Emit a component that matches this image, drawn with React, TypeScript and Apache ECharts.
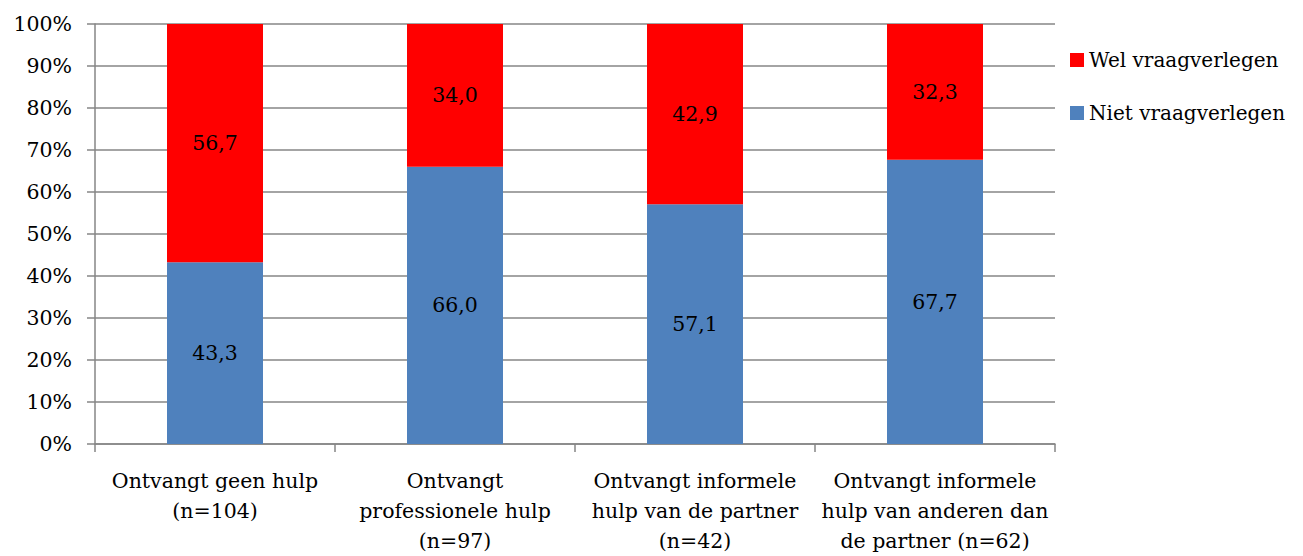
import React, { useEffect, useRef } from "react";
import * as echarts from "echarts";

const categories = [
  "Ontvangt geen hulp\n(n=104)",
  "Ontvangt\nprofessionele hulp\n(n=97)",
  "Ontvangt informele\nhulp van de partner\n(n=42)",
  "Ontvangt informele\nhulp van anderen dan\nde partner (n=62)",
];
const nietValues = [43.3, 66.0, 57.1, 67.7];
const welValues = [56.7, 34.0, 42.9, 32.3];

const FONT = "DejaVu Serif";
const SIZE = 20.5;
const fmt = (v: number) => v.toFixed(1).replace(".", ",");

export default function App() {
  const ref = useRef<HTMLDivElement>(null);
  useEffect(() => {
    if (!ref.current) return;
    const chart = echarts.init(ref.current, null, { renderer: "svg", width: 1303, height: 556 });
    const valueLabel = {
      show: true,
      position: "inside",
      fontFamily: FONT,
      fontSize: SIZE,
      color: "#000",
      formatter: (p: any) => fmt(p.value),
    };
    chart.setOption({
      animation: false,
      backgroundColor: "#ffffff",
      textStyle: { fontFamily: FONT, color: "#000" },
      grid: { left: 95, right: 248, top: 24, bottom: 106, containLabel: false },
      legend: {
        orient: "vertical",
        left: 1065,
        top: 45,
        itemWidth: 14,
        itemHeight: 14,
        itemGap: 33,
        icon: "rect",
        textStyle: { fontFamily: FONT, fontSize: 20, color: "#000" },
        data: ["Wel vraagverlegen", "Niet vraagverlegen"],
      },
      xAxis: {
        type: "category",
        data: categories,
        axisLine: { lineStyle: { color: "#868686", width: 1.5 } },
        axisTick: { show: true, length: 8, alignWithLabel: false, lineStyle: { color: "#868686", width: 1.5 } },
        axisLabel: {
          interval: 0,
          margin: 22,
          fontFamily: FONT,
          fontSize: SIZE,
          lineHeight: 30,
          color: "#000",
        },
      },
      yAxis: {
        type: "value",
        min: 0,
        max: 100,
        interval: 10,
        axisLine: { show: true, lineStyle: { color: "#868686", width: 1.5 } },
        axisTick: { show: true, length: 8, lineStyle: { color: "#868686", width: 1.5 } },
        splitLine: { lineStyle: { color: "#868686", width: 1.5 } },
        axisLabel: {
          margin: 23,
          fontFamily: FONT,
          fontSize: SIZE,
          color: "#000",
          formatter: (v: number) => v + "%",
        },
      },
      series: [
        {
          name: "Niet vraagverlegen",
          type: "bar",
          stack: "total",
          barWidth: "40%",
          data: nietValues,
          itemStyle: { color: "#4F81BD" },
          label: valueLabel,
        },
        {
          name: "Wel vraagverlegen",
          type: "bar",
          stack: "total",
          barWidth: "40%",
          data: welValues,
          itemStyle: { color: "#FF0000" },
          label: valueLabel,
        },
      ],
    });
    return () => chart.dispose();
  }, []);
  return <div ref={ref} style={{ width: 1303, height: 556, position: "absolute", left: 0, top: 0 }} />;
}
